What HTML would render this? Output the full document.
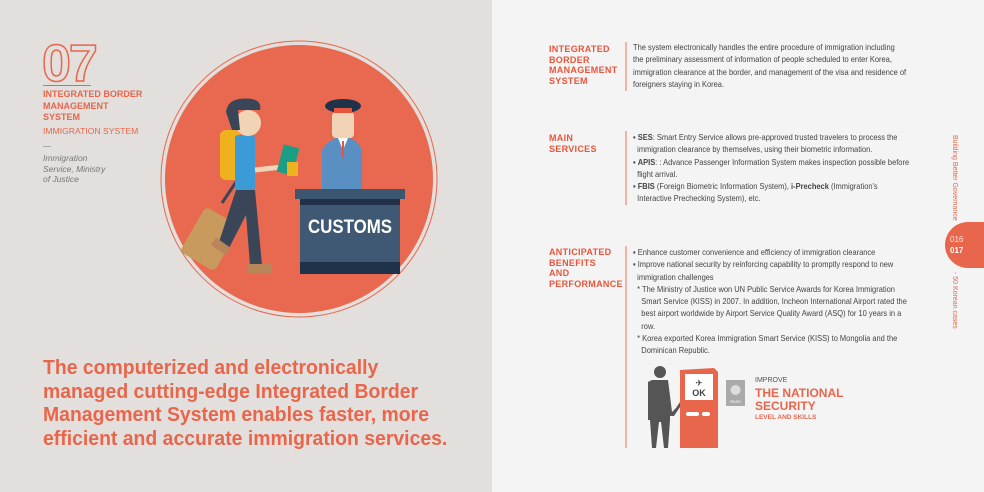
<!DOCTYPE html>
<html><head><meta charset="utf-8"><style>
*{margin:0;padding:0;box-sizing:border-box}
body{width:984px;height:492px;overflow:hidden;position:relative;font-family:"Liberation Sans",sans-serif;background:#f4f4f4}
.l{position:absolute;left:0;top:0;width:492px;height:492px;background:#e2dfdc}
.a{position:absolute;white-space:nowrap;transform-origin:0 0}
.or{color:#e8664b}
.h{font-weight:bold;font-size:20px;color:#e8664b}
.lab{position:absolute;left:549px;font-weight:bold;font-size:9px;line-height:10.5px;color:#e8553b;letter-spacing:0.3px}
.t{position:absolute;left:633px;font-size:8.6px;line-height:12.3px;color:#444}
.t div{white-space:nowrap;transform:scaleX(0.87);transform-origin:0 0}
.vl{position:absolute;left:625px;width:1.5px;background:#f0b2a4}
</style></head><body>
<div class="l"></div>
<div class="a" style="left:42px;top:34px;font-size:52px;font-weight:bold;color:transparent;-webkit-text-stroke:1.5px #e8664b;letter-spacing:-2px">07</div>
<div class="a" style="left:43px;top:85px;width:48px;height:1px;background:#e8664b"></div>
<div class="a or" style="left:43px;top:89px;font-weight:bold;font-size:9px;line-height:11.5px">INTEGRATED BORDER<br>MANAGEMENT<br>SYSTEM</div>
<div class="a or" style="left:43px;top:126px;font-size:8.6px">IMMIGRATION SYSTEM</div>
<div class="a" style="left:43px;top:146px;width:8px;height:1px;background:#aaa"></div>
<div class="a" style="left:43px;top:153px;font-size:8.5px;line-height:10.5px;font-style:italic;color:#777">Immigration<br>Service, Ministry<br>of Justice</div>

<svg class="a" style="left:0;top:0" width="492" height="340">
<circle cx="299" cy="179" r="138" fill="none" stroke="#e8664b" stroke-width="1"/>
<circle cx="299" cy="179" r="134" fill="#e8694f"/>
<rect x="190" y="213" width="40" height="52" rx="5" fill="#c99a5e" transform="rotate(30 210 239)"/>
<line x1="222" y1="203" x2="240" y2="176" stroke="#3a4658" stroke-width="3"/>
<rect x="220" y="130" width="20" height="50" rx="6" fill="#efb21f"/>
<rect x="235" y="135" width="20" height="55" rx="3" fill="#3b9bd6"/>
<path d="M236 190 L255 190 L262 265 L250 265 L246 215 L228 250 L218 245 Z" fill="#3a4658"/>
<rect x="248" y="264" width="24" height="9" fill="#b9865a"/>
<rect x="212" y="242" width="18" height="9" fill="#b9865a" transform="rotate(35 221 246)"/>
<line x1="255" y1="170" x2="282" y2="167" stroke="#f1d3b6" stroke-width="5"/>
<rect x="280" y="146" width="16" height="28" fill="#1a9e86" transform="rotate(15 288 160)"/>
<rect x="287" y="162" width="11" height="14" fill="#efb21f"/>
<circle cx="248" cy="123" r="13" fill="#f1d3b6"/>
<path d="M226 112 Q228 96 252 99 Q262 101 260 110 L238 110 L240 130 L232 130 Z" fill="#3a4658"/>
<path d="M322 150 Q330 137 343 137 Q356 137 362 150 L362 190 L322 190 Z" fill="#5a8fc4"/>
<path d="M338 138 L343 150 L348 138 Z" fill="#fff"/>
<rect x="342" y="141" width="2" height="16" fill="#e8553b"/>
<rect x="332" y="112" width="22" height="26" rx="4" fill="#f1d3b6"/>
<ellipse cx="343" cy="106" rx="18" ry="7" fill="#1f3249"/>
<rect x="334" y="108" width="18" height="5" fill="#e8553b"/>
<rect x="295" y="189" width="110" height="10" fill="#3d5670"/>
<rect x="300" y="199" width="100" height="75" fill="#3f5873"/>
<rect x="300" y="199" width="100" height="6" fill="#1f3249"/>
<rect x="300" y="262" width="100" height="12" fill="#1f3249"/>
<text x="350" y="233" text-anchor="middle" font-family="Liberation Sans" font-weight="bold" font-size="19" fill="#fff" textLength="84" lengthAdjust="spacingAndGlyphs">CUSTOMS</text>
</svg>

<div class="a h" style="left:43px;top:357px;line-height:23.5px;transform:scaleX(0.97)">The computerized and electronically<br>managed cutting-edge Integrated Border<br>Management System enables faster, more<br>efficient and accurate immigration services.</div>

<div class="lab" style="top:44px">INTEGRATED<br>BORDER<br>MANAGEMENT<br>SYSTEM</div>
<div class="vl" style="top:42px;height:49px"></div>
<div class="t" style="top:41px"><div>The system electronically handles the entire procedure of immigration including</div><div>the preliminary assessment of information of people scheduled to enter Korea,</div><div>immigration clearance at the border, and management of the visa and residence of</div><div>foreigners staying in Korea.</div></div>

<div class="lab" style="top:133px">MAIN<br>SERVICES</div>
<div class="vl" style="top:131px;height:74px"></div>
<div class="t" style="top:131px"><div>▪ <b>SES</b>: Smart Entry Service allows pre-approved trusted travelers to process the</div><div>&nbsp;&nbsp;immigration clearance by themselves, using their biometric information.</div><div>▪ <b>APIS</b>: : Advance Passenger Information System makes inspection possible before</div><div>&nbsp;&nbsp;flight arrival.</div><div>▪ <b>FBIS</b> (Foreign Biometric Information System), <b>i-Precheck</b> (Immigration's</div><div>&nbsp;&nbsp;Interactive Prechecking System), etc.</div></div>

<div class="lab" style="top:247px">ANTICIPATED<br>BENEFITS<br>AND<br>PERFORMANCE</div>
<div class="vl" style="top:246px;height:202px"></div>
<div class="t" style="top:246px"><div>▪ Enhance customer convenience and efficiency of immigration clearance</div><div>▪ Improve national security by reinforcing capability to promptly respond to new</div><div>&nbsp;&nbsp;immigration challenges</div><div>&nbsp;&nbsp;* The Ministry of Justice won UN Public Service Awards for Korea Immigration</div><div>&nbsp;&nbsp;&nbsp;&nbsp;Smart Service (KISS) in 2007. In addition, Incheon International Airport rated the</div><div>&nbsp;&nbsp;&nbsp;&nbsp;best airport worldwide by Airport Service Quality Award (ASQ) for 10 years in a</div><div>&nbsp;&nbsp;&nbsp;&nbsp;row.</div><div>&nbsp;&nbsp;* Korea exported Korea Immigration Smart Service (KISS) to Mongolia and the</div><div>&nbsp;&nbsp;&nbsp;&nbsp;Dominican Republic.</div></div>

<svg class="a" style="left:640px;top:362px" width="120" height="90">
<circle cx="20" cy="10" r="6" fill="#555"/>
<path d="M12 18 L28 18 L32 50 L36 46 L40 40 L42 42 L34 54 L30 54 L30 58 L28 86 L24 86 L21 60 L19 60 L16 86 L12 86 L10 58 L8 58 L8 20 Z" fill="#555"/>
<path d="M40 8 L74 6 L78 10 L78 86 L40 86 Z" fill="#e8664b"/>
<rect x="45" y="12" width="28" height="26" fill="#fff"/>
<text x="59" y="34" text-anchor="middle" font-family="Liberation Sans" font-weight="bold" font-size="9" fill="#444">OK</text>
<text x="59" y="24" text-anchor="middle" font-size="9" fill="#444">✈</text>
<rect x="46" y="50" width="13" height="4" rx="2" fill="#fff"/><rect x="62" y="50" width="8" height="4" rx="2" fill="#fff"/>
<rect x="86" y="18" width="19" height="26" fill="#aaa"/>
<circle cx="95.5" cy="28" r="5" fill="#ddd"/>
<text x="95.5" y="41" text-anchor="middle" font-family="Liberation Sans" font-size="4" fill="#fff">PASS</text>
</svg>
<div class="a" style="left:755px;top:377px;font-size:7px;color:#555">IMPROVE</div>
<div class="a or" style="left:755px;top:387px;font-size:12px;line-height:13px;font-weight:bold">THE NATIONAL<br>SECURITY</div>
<div class="a or" style="left:755px;top:414px;font-size:6.5px;font-weight:bold">LEVEL AND SKILLS</div>

<div class="a" style="left:945px;top:222px;width:45px;height:46px;border-radius:23px 0 0 23px;background:#e8664b"></div>
<div class="a" style="left:950px;top:234px;font-size:8px;line-height:11px;color:#fde2da">016<br><b style="color:#fff">017</b></div>
<div class="a" style="left:958px;top:135px;font-size:7px;color:#e8664b;transform:rotate(90deg)">Building Better Governance</div>
<div class="a" style="left:958px;top:272px;font-size:7px;color:#e8664b;transform:rotate(90deg)">- 50 Korean cases</div>
</body></html>
